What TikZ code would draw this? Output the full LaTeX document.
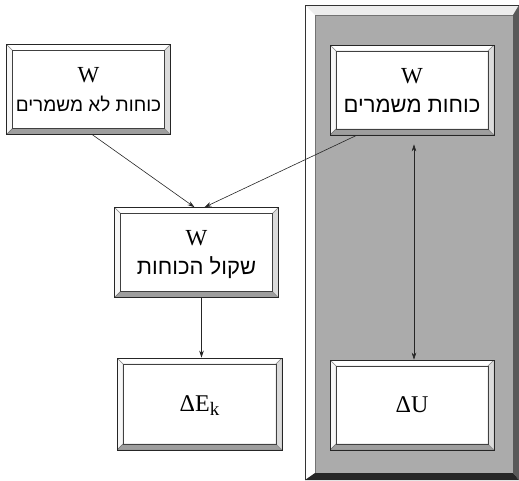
\documentclass[tikz,border=0pt]{standalone}
\usepackage{fontspec}
\setmainfont{Liberation Serif}
\newfontfamily\hebfont[Script=Hebrew]{Liberation Sans}
\TeXXeTstate=1
\usetikzlibrary{arrows.meta}
\tikzstyle{framebox}=[draw=black!85, line width=0.6pt, fill=white, inner sep=0pt,
  align=center, minimum width=164pt, minimum height=90pt, text depth=0pt,
  font=\fontsize{23}{29}\selectfont,
  path picture={
    \coordinate (o1) at (path picture bounding box.north west);
    \coordinate (o2) at (path picture bounding box.north east);
    \coordinate (o3) at (path picture bounding box.south east);
    \coordinate (o4) at (path picture bounding box.south west);
    \coordinate (i1) at ([shift={(6pt,-6pt)}]o1);
    \coordinate (i2) at ([shift={(-6pt,-6pt)}]o2);
    \coordinate (i3) at ([shift={(-6pt,6pt)}]o3);
    \coordinate (i4) at ([shift={(6pt,6pt)}]o4);
    \filldraw[fill=white, draw=black!45, line width=0.4pt] (o1) -- (o2) -- (i2) -- (i1) -- cycle;
    \filldraw[fill=black!3, draw=black!45, line width=0.4pt] (o1) -- (i1) -- (i4) -- (o4) -- cycle;
    \filldraw[fill=black!38, draw=black!55, line width=0.4pt] (o4) -- (i4) -- (i3) -- (o3) -- cycle;
    \filldraw[fill=black!14, draw=black!45, line width=0.4pt] (o2) -- (o3) -- (i3) -- (i2) -- cycle;
    \draw[black!75, line width=0.6pt] (i1) rectangle (i3);
  }]
\tikzstyle{sumbox}=[framebox, font=\fontsize{24}{30}\selectfont]
\tikzstyle{arr}=[draw=black!85, line width=0.6pt, -{Stealth[length=7pt,width=4.5pt]}]
\tikzstyle{darr}=[arr, {Stealth[length=7pt,width=4.5pt]}-{Stealth[length=7pt,width=4.5pt]}]
\newcommand{\heb}[2][22]{{\fontsize{#1}{29}\hebfont\beginR #2\endR}}

\begin{document}
\begin{tikzpicture}[x=1pt, y=-1pt]
  \useasboundingbox (0,0) rectangle (519,480);
  % grey panel behind the conservative side
  \fill[black!33] (315,15) rectangle (513,473);
  \fill[white] (305,5) -- (315,15) -- (315,473) -- (305,480) -- cycle;
  \fill[black!7] (305,5) -- (519,5) -- (513,15) -- (315,15) -- cycle;
  \fill[black!65] (519,5) -- (519,480) -- (513,473) -- (513,15) -- cycle;
  \fill[black!85] (305,480) -- (315,473) -- (513,473) -- (519,480) -- cycle;
  \draw[black!80, line width=0.6pt] (305,480) -- (305,5) -- (519,5);
  \draw[black!55, line width=0.4pt] (315,473) -- (315,15) -- (513,15);

  \node[framebox] (Wnc) at (88.5, 89.5) {W\\\heb[19]{כוחות לא משמרים}};
  \node[framebox] (Wc) at (412, 90) {W\\\heb{כוחות משמרים}};
  \node[framebox] (Wtot) at (196.5, 252.5) {W\\\heb{שקול הכוחות}};
  \node[sumbox, minimum width=165pt, minimum height=92pt] (dEk) at (199.5, 404)
    {ΔE\raisebox{-4pt}{\fontsize{19}{19}\selectfont k}};
  \node[sumbox] (dU) at (412, 405) {ΔU};

  \draw[arr] ([xshift=4pt]Wnc.south) -- ([xshift=-2pt]Wtot.north);
  \draw[arr] ([xshift=27pt]Wc.south west) -- ([xshift=8pt]Wtot.north);
  \draw[arr] ([xshift=5pt]Wtot.south) -- ([xshift=5pt]Wtot.south |- dEk.north);
  \draw[darr, shorten <=9pt] ([xshift=2pt]Wc.south) -- ([xshift=2pt]dU.north);
\end{tikzpicture}
\end{document}
